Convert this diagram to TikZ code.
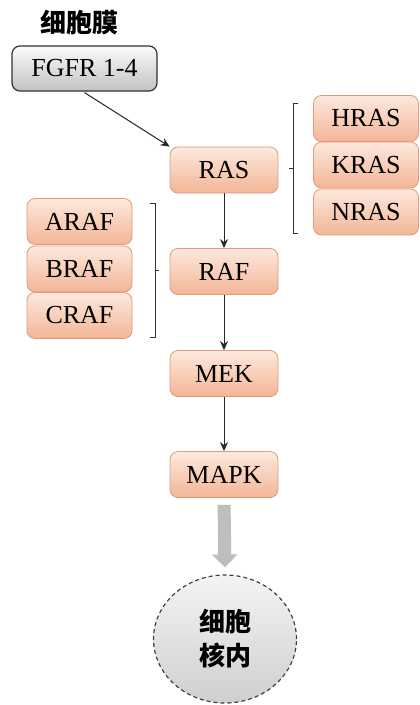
\documentclass[tikz,border=0pt]{standalone}
\usepackage{fontspec}
\setmainfont{Liberation Serif}
\newfontfamily\cjk{Noto Sans CJK SC}
\usetikzlibrary{arrows.meta,shapes.geometric}
\definecolor{boxtop}{HTML}{FDE9DE}
\definecolor{boxbot}{HTML}{F3B596}
\definecolor{boxline}{HTML}{E29A78}
\definecolor{graytop}{HTML}{FBFBFB}
\definecolor{graybot}{HTML}{C2C2C2}
\definecolor{nuctop}{HTML}{F4F4F4}
\definecolor{nucbot}{HTML}{CFCFCF}
\definecolor{arrowgray}{HTML}{BEBEBE}
\tikzset{
  pbox/.style={draw=boxline, line width=0.8pt, rounded corners=8pt,
    top color=boxtop, bottom color=boxbot, minimum width=108pt, minimum height=46pt,
    inner sep=0pt, font=\fontsize{26}{28}\selectfont},
  sbox/.style={pbox, minimum width=105pt, minimum height=46pt},
  fbox/.style={draw=black!80, line width=1.2pt, rounded corners=8pt,
    top color=graytop, bottom color=graybot, minimum width=145pt, minimum height=45pt,
    inner sep=0pt, font=\fontsize{26}{28}\selectfont},
  conn/.style={draw=black!85, line width=1pt, -{Stealth[length=9pt,width=8pt]}},
  brk/.style={draw=black!80, line width=1pt},
  cjktext/.style={font=\cjk\bfseries\fontsize{26}{34}\selectfont, align=center},
  nucleus/.style={ellipse, draw=black!75, line width=1.2pt, dash pattern=on 4pt off 3pt,
    top color=nuctop, bottom color=nucbot, minimum width=143pt, minimum height=128pt, inner sep=0pt}
}
\begin{document}
\begin{tikzpicture}[x=1pt,y=-1pt]
\useasboundingbox (0,0) rectangle (420,705);
\fill[white] (0,0) rectangle (420,705);

\node[cjktext] (title) at (80,23) {细胞膜};
\node[fbox] (fgfr) at (84.5,68.5) {FGFR 1-4};

\node[pbox] (ras) at (224,170) {RAS};
\node[pbox] (raf) at (224,271.5) {RAF};
\node[pbox] (mek) at (224,373.5) {MEK};
\node[pbox] (mapk) at (224,474.5) {MAPK};

\node[sbox] (hras) at (366,118.5) {HRAS};
\node[sbox] (kras) at (366,165) {KRAS};
\node[sbox] (nras) at (366,212) {NRAS};

\node[sbox] (araf) at (79.5,221.5) {ARAF};
\node[sbox] (braf) at (79.5,269) {BRAF};
\node[sbox] (craf) at (79.5,315.5) {CRAF};

% nucleus
\node[nucleus] (nuc) at (225,639) {};
\node[cjktext] (nuctext) at (nuc.center) {细胞\\核内};

% connectors
\draw[conn] (fgfr.south) ++(0,1) -- (ras.north west);
\draw[conn] (ras) -- (raf);
\draw[conn] (raf) -- (mek);
\draw[conn] (mek) -- (mapk);
\draw[arrowgray, line width=13pt, -{Triangle[width=25pt,length=13pt]},
  shorten <=7pt, shorten >=7pt] (mapk.south) -- (nuc.north);

% brackets
\coordinate (rb1) at (298,103);
\coordinate (rb2) at (298,233);
\draw[brk] (rb1) -- (293,103) -- (293,233) -- (rb2);
\draw[brk] (293,168) -- (289,168);
\coordinate (lb1) at (150,203);
\coordinate (lb2) at (150,337);
\draw[brk] (lb1) -- (155,203) -- (155,337) -- (lb2);
\draw[brk] (155,270) -- (159,270);
\end{tikzpicture}
\end{document}
